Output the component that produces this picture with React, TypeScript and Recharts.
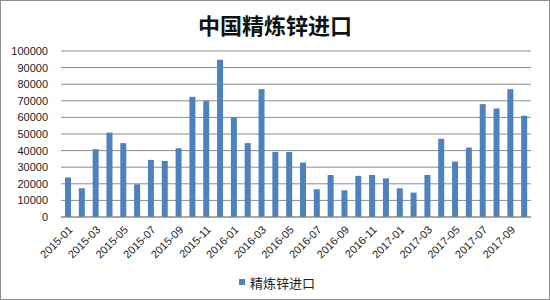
import React from "react";
import { BarChart, Bar, XAxis, YAxis, CartesianGrid, Legend } from "recharts";

const months = [
  "2015-01", "2015-02", "2015-03", "2015-04", "2015-05", "2015-06", "2015-07", "2015-08", "2015-09", "2015-10", "2015-11", "2015-12",
  "2016-01", "2016-02", "2016-03", "2016-04", "2016-05", "2016-06", "2016-07", "2016-08", "2016-09", "2016-10", "2016-11", "2016-12",
  "2017-01", "2017-02", "2017-03", "2017-04", "2017-05", "2017-06", "2017-07", "2017-08", "2017-09", "2017-10",
];

// 精炼锌进口 (吨)
const imports = [
  23800, 17300, 40800, 50900, 44500, 19700, 34400, 33800, 41400, 72400, 70000, 94800,
  60000, 44500, 77000, 39200, 39200, 32800, 16700, 25300, 16100, 24800, 25300, 23300,
  17300, 14700, 25300, 47100, 33400, 41800, 68000, 65400, 77000, 61000,
];

const yTicks = [0, 10000, 20000, 30000, 40000, 50000, 60000, 70000, 80000, 90000, 100000];

const title = "中国精炼锌进口";
const seriesName = "精炼锌进口";

const data = months.map((m, i) => ({ month: m, value: imports[i] }));

const barColor = "#4F81BD";

function LegendBox() {
  return (
    <div style={{
      display: "flex", justifyContent: "center", alignItems: "center", paddingLeft: 22,
      fontSize: 13, fontFamily: "'Noto Sans CJK SC', sans-serif", color: "#222", height: 22,
    }}>
      <span style={{ display: "inline-block", width: 6, height: 6, background: barColor, marginRight: 5 }} />
      <span>{seriesName}</span>
    </div>
  );
}

export default function App() {
  return (
    <div style={{ position: "absolute", left: 0, top: 0, width: 548, height: 298, border: "1px solid #8f8f8f", background: "#fff" }}>
      <div style={{
        position: "absolute", left: 0, top: 9, width: 548, textAlign: "center",
        fontFamily: "'Noto Sans CJK SC', sans-serif", fontWeight: 700, fontSize: 22, color: "#111", lineHeight: "28px",
      }}>
        {title}
      </div>
      <BarChart width={548} height={298} data={data} margin={{ top: 50, right: 18, left: 0, bottom: 6 }}>
        <CartesianGrid vertical={false} stroke="#8c8c8c" strokeWidth={1} />
        <XAxis
          dataKey="month"
          interval={1}
          angle={-45}
          textAnchor="end"
          tickLine={false}
          axisLine={{ stroke: "#8c8c8c" }}
          height={54}
          tickMargin={2}
          tick={{ fill: "#222", fontSize: 11, fontFamily: "'Liberation Sans', Arial, sans-serif" }}
        />
        <YAxis
          domain={[0, 100000]}
          ticks={yTicks}
          interval={0}
          width={60}
          axisLine={false}
          tickLine={false}
          tickMargin={7}
          tick={{ fill: "#222", fontSize: 11, fontFamily: "'Liberation Sans', Arial, sans-serif" }}
        />
        <Bar dataKey="value" name={seriesName} fill={barColor} barSize={6} isAnimationActive={false} />
        <Legend verticalAlign="bottom" align="center" height={22} content={() => <LegendBox />} />
      </BarChart>
    </div>
  );
}
